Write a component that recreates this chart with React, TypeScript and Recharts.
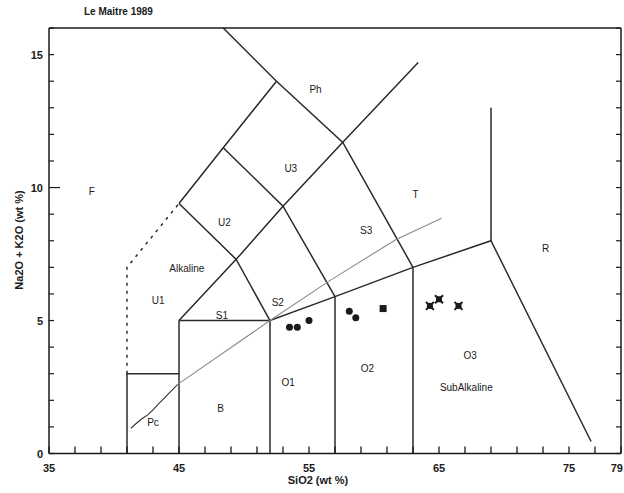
import { ComposedChart, XAxis, YAxis, Line, Scatter } from 'recharts';

// TAS field boundaries, [SiO2, Na2O+K2O]
const picroBox = [[41, 0], [41, 3], [45, 3]];
const foiditeDashed = [[41, 3], [41, 7], [45, 9.4]];
const line45 = [[45, 0], [45, 5]];
const line52 = [[52, 0], [52, 5]];
const line57 = [[57, 0], [57, 5.9]];
const line63 = [[63, 0], [63, 7]];
const line69 = [[69, 8], [69, 13]];
const subalkTop = [[45, 5], [52, 5], [57, 5.9], [63, 7], [69, 8], [76.7, 0.45]];
const outerLeft = [[45, 9.4], [48.4, 11.5], [52.5, 14], [48.4, 16]];
const diagUp = [[45, 5], [49.4, 7.3], [53, 9.3], [57.6, 11.7], [63.4, 14.7]];
const diagS1 = [[45, 9.4], [49.4, 7.3], [52, 5]];
const diagS2 = [[48.4, 11.5], [53, 9.3], [57, 5.9]];
const diagS3 = [[52.5, 14], [57.6, 11.7], [63, 7]];
// alkaline / subalkaline divide
const pcCurve = [[41.3, 0.95], [42, 1.25], [42.7, 1.5], [43.5, 1.9], [44.2, 2.25], [44.9, 2.6]];
const alkLine = [[44.9, 2.6], [52, 5], [56.6, 6.5], [61.7, 8.05], [65.2, 8.85]];

// samples
const circleSamples = [[53.5, 4.75], [54.1, 4.75], [55, 5.0], [58.1, 5.35], [58.6, 5.1]];
const squareSamples = [[60.7, 5.45]];
const crossSamples = [[64.3, 5.55], [65.0, 5.8], [66.5, 5.55]];

const fieldLabels = [
  { x: 38.3, y: 9.85, name: 'F' },
  { x: 43.4, y: 5.75, name: 'U1' },
  { x: 45.6, y: 6.95, name: 'Alkaline' },
  { x: 48.5, y: 8.7, name: 'U2' },
  { x: 53.6, y: 10.7, name: 'U3' },
  { x: 55.5, y: 13.7, name: 'Ph' },
  { x: 48.3, y: 5.2, name: 'S1' },
  { x: 52.6, y: 5.67, name: 'S2' },
  { x: 59.4, y: 8.4, name: 'S3' },
  { x: 63.2, y: 9.75, name: 'T' },
  { x: 73.2, y: 7.7, name: 'R' },
  { x: 53.4, y: 2.68, name: 'O1' },
  { x: 59.5, y: 3.2, name: 'O2' },
  { x: 67.4, y: 3.7, name: 'O3' },
  { x: 67.1, y: 2.5, name: 'SubAlkaline' },
  { x: 48.2, y: 1.7, name: 'B' },
  { x: 43.0, y: 1.18, name: 'Pc' },
];

const xTicks = [35, 37, 39, 41, 43, 45, 47, 49, 51, 53, 55, 57, 59, 61, 63, 65, 67, 69, 71, 73, 75, 77, 79];
const xLabels = [35, 45, 55, 65, 75, 79];
const yTicks = [0, 1, 2, 3, 4, 5, 6, 7, 8, 9, 10, 11, 12, 13, 14, 15, 16];
const yLabels = [0, 5, 10, 15];

const pts = (a: number[][]) => a.map(([x, y]) => ({ x, y }));
const font = '"Liberation Sans Narrow", "Liberation Sans", Arial, sans-serif';
const ink = '#1a1a1a';

const BottomTick = ({ x, y, payload }: any) => (
  <g>
    <line x1={x} x2={x} y1={y} y2={y - 7} stroke={ink} strokeWidth={1.3} />
    {xLabels.includes(payload.value) && (
      <text x={payload.value === 79 ? x + 2 : x} y={y + 18} textAnchor={payload.value === 79 ? 'end' : 'middle'}
        fontSize={11} fontWeight="bold" fontFamily={font} fill={ink}>
        {payload.value}
      </text>
    )}
  </g>
);
const TopTick = ({ x, y }: any) => (
  <line x1={x} x2={x} y1={y} y2={y + 7} stroke={ink} strokeWidth={1.3} />
);
const LeftTick = ({ x, y, payload }: any) => {
  const lab = yLabels.includes(payload.value);
  return (
    <g>
      <line x1={x} x2={x + (payload.value === 10 ? 11 : 5)} y1={y} y2={y} stroke={ink} strokeWidth={1.2} />
      {lab && (
        <text x={x - 6} y={y + 4} textAnchor="end" fontSize={11} fontWeight="bold" fontFamily={font} fill={ink}>
          {payload.value}
        </text>
      )}
    </g>
  );
};
const RightTick = ({ x, y }: any) => (
  <line x1={x} x2={x - 5} y1={y} y2={y} stroke={ink} strokeWidth={1.2} />
);

const Dot = ({ cx, cy }: any) => <circle cx={cx} cy={cy} r={3.5} fill={ink} />;
const Sq = ({ cx, cy }: any) => <rect x={cx - 3.5} y={cy - 3.5} width={7} height={7} fill={ink} />;
const Cross = ({ cx, cy }: any) => (
  <g>
    <rect x={cx - 3} y={cy - 3} width={6} height={6} fill={ink} />
    <path d={`M${cx - 4} ${cy - 4}L${cx + 4} ${cy + 4}M${cx + 4} ${cy - 4}L${cx - 4} ${cy + 4}`} stroke={ink} strokeWidth={2} />
  </g>
);
const Label = ({ cx, cy, payload }: any) => (
  <text x={cx} y={cy} textAnchor="middle" dominantBaseline="central" fontSize={10} fontFamily={font} fill={ink}>
    {payload.name}
  </text>
);

const solid = [picroBox, line45, line52, line57, line63, line69, subalkTop, outerLeft, diagUp, diagS1, diagS2, diagS3];

export default function App() {
  return (
    <div style={{ position: 'absolute', left: 0, top: 0, width: 624, height: 493, background: '#fff' }}>
      <div style={{ position: 'absolute', left: 84, top: 6, fontFamily: font, fontSize: 10, fontWeight: 'bold', color: ink }}>
        Le Maitre 1989
      </div>
      <div style={{ position: 'absolute', left: 0, width: 624, top: 474, textAlign: 'center', paddingLeft: 6, fontFamily: font, fontSize: 11, fontWeight: 'bold', color: ink }}>
        SiO2 (wt %)
      </div>
      <div
        style={{
          position: 'absolute', left: 19, top: 240, transform: 'translate(-50%, -50%) rotate(-90deg)', whiteSpace: 'nowrap',
          fontFamily: font, fontSize: 11, fontWeight: 'bold', color: ink,
        }}
      >
        Na2O + K2O (wt %)
      </div>
      <ComposedChart width={624} height={493} margin={{ top: 27, right: 2, bottom: 9.5, left: 9 }}>
        <XAxis dataKey="x" type="number" domain={[35, 79]} ticks={xTicks} interval={0} height={30} tickSize={0} tickMargin={0}
          tick={BottomTick} axisLine={{ stroke: ink, strokeWidth: 1.5 }} allowDataOverflow />
        <XAxis xAxisId="top" orientation="top" type="number" domain={[35, 79]} ticks={xTicks} interval={0} height={1} tickSize={0}
          tickMargin={0} tick={TopTick} axisLine={{ stroke: ink, strokeWidth: 1.5 }} allowDataOverflow />
        <YAxis dataKey="y" type="number" domain={[0, 16]} ticks={yTicks} interval={0} width={40} tickSize={0} tickMargin={0}
          tick={LeftTick} axisLine={{ stroke: ink, strokeWidth: 1.5 }} allowDataOverflow />
        <YAxis yAxisId="right" orientation="right" type="number" domain={[0, 16]} ticks={yTicks} interval={0} width={1} tickSize={0}
          tickMargin={0} tick={RightTick} axisLine={{ stroke: ink, strokeWidth: 1.5 }} allowDataOverflow />
        {solid.map((seg, i) => (
          <Line key={i} data={pts(seg)} dataKey="y" type="linear" stroke="#2a2a2a" strokeWidth={1.5} dot={false} isAnimationActive={false} />
        ))}
        <Line data={pts(foiditeDashed)} dataKey="y" type="linear" stroke="#2a2a2a" strokeWidth={1.5} strokeDasharray="3 5" dot={false} isAnimationActive={false} />
        <Line data={pts(pcCurve)} dataKey="y" type="monotone" stroke="#333" strokeWidth={1.1} dot={false} isAnimationActive={false} />
        <Line data={pts(alkLine)} dataKey="y" type="linear" stroke="#8a8a8a" strokeWidth={1.1} dot={false} isAnimationActive={false} />
        <Scatter data={pts(circleSamples)} shape={Dot} isAnimationActive={false} />
        <Scatter data={pts(squareSamples)} shape={Sq} isAnimationActive={false} />
        <Scatter data={pts(crossSamples)} shape={Cross} isAnimationActive={false} />
        <Scatter data={fieldLabels} shape={Label} isAnimationActive={false} />
      </ComposedChart>
    </div>
  );
}
